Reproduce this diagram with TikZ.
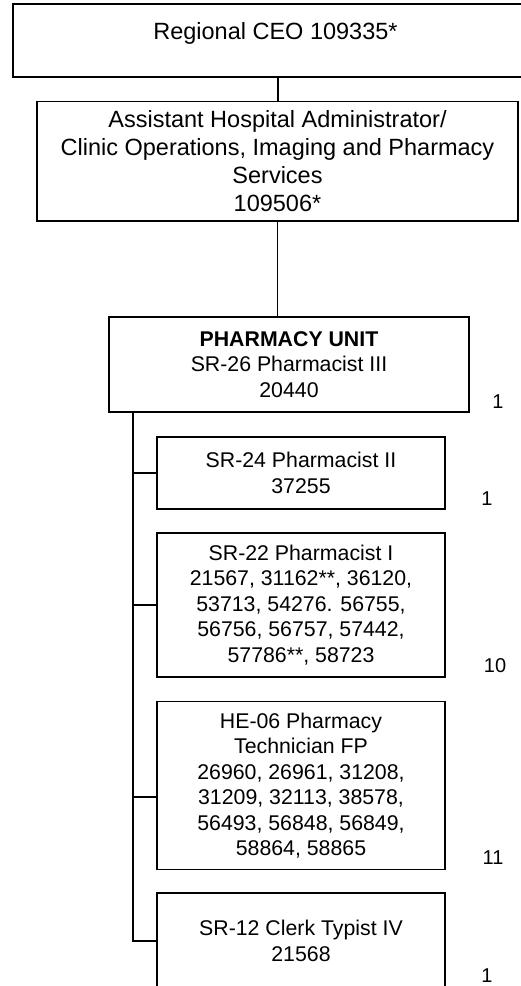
\documentclass[tikz,border=0pt]{standalone}
\usepackage{fontspec}
\setmainfont{Liberation Sans}
\begin{document}
\begin{tikzpicture}[x=1pt,y=-1pt,
  box/.style={draw, line width=1.3pt, inner sep=0pt, align=center},
  big/.style={font=\fontsize{23.5}{28}\selectfont},
  small/.style={font=\fontsize{21.3}{25.5}\selectfont},
  cnt/.style={font=\fontsize{20}{24}\selectfont},
  link/.style={line width=1.3pt}]
\useasboundingbox (0,0) rectangle (521,986);
\clip (0,0) rectangle (521,986);
\node[box, minimum width=530pt, minimum height=73pt] (ceo) at (278,40.5) {};
\node[big] (ceot) at (275.5,33) {Regional CEO 109335*};
\node[box, big, minimum width=481pt, minimum height=119.3pt] (aha) at (277.5,161.3)
  {Assistant Hospital Administrator/\\Clinic Operations, Imaging and Pharmacy\\Services\\109506*};
\node[box, small, minimum width=360pt, minimum height=95pt] (unit) at (289,364.5)
  {\textbf{PHARMACY UNIT}\\SR-26 Pharmacist III\\20440};
\node[box, small, minimum width=288pt, minimum height=72pt] (b4) at (301,473)
  {SR-24 Pharmacist II\\37255};
\node[box, small, minimum width=288pt, minimum height=144pt] (b5) at (301,605)
  {SR-22 Pharmacist I\\21567, 31162**, 36120,\\53713, 54276. 56755,\\56756, 56757, 57442,\\57786**, 58723};
\node[box, small, minimum width=288pt, minimum height=167.6pt] (b6) at (301,785.5)
  {HE-06 Pharmacy\\Technician FP\\26960, 26961, 31208,\\31209, 32113, 38578,\\56493, 56848, 56849,\\58864, 58865};
\node[box, small, minimum width=288pt, minimum height=96pt] (b7) at (301,941)
  {SR-12 Clerk Typist IV\\21568};
\coordinate (sp) at (133,0);
\coordinate (b6in) at ([yshift=-11.5pt]b6.west);
\draw[link] (ceo.south) -- (ceo.south |- aha.north);
\draw[link] (aha.south) -- (aha.south |- unit.north);
\draw[link] (unit.south -| sp) -- (b7.west -| sp) -- (b7.west);
\draw[link] (b4.west -| sp) -- (b4.west);
\draw[link] (b5.west -| sp) -- (b5.west);
\draw[link] (b6in -| sp) -- (b6in);
\node[cnt] (n3) at (498,402) {1};
\node[cnt] (n4) at (487,499) {1};
\node[cnt] (n5) at (495,666) {10};
\node[cnt] (n6) at (493,858) {11};
\node[cnt] (n7) at (487,975.5) {1};
\end{tikzpicture}
\end{document}
